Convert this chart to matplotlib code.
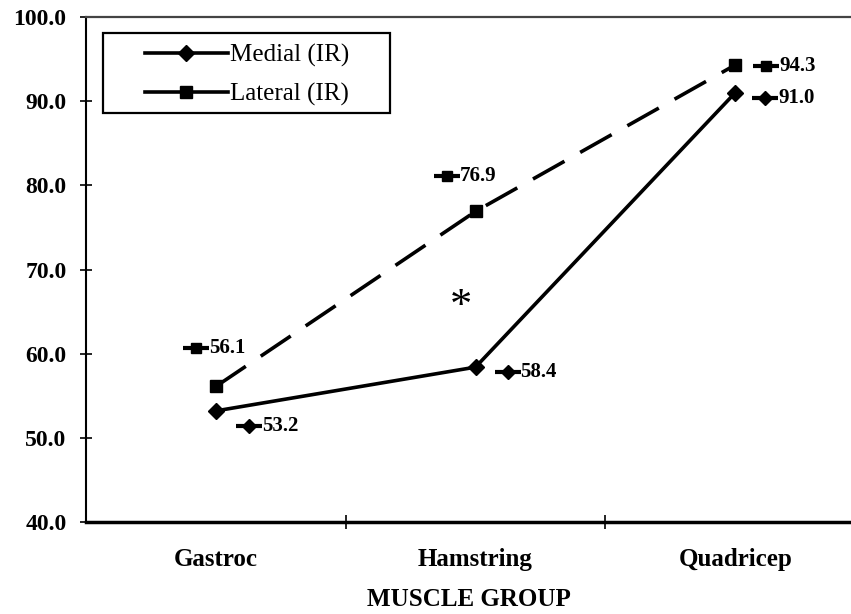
import matplotlib.pyplot as plt
from matplotlib.lines import Line2D
from matplotlib.patches import Rectangle
from matplotlib.transforms import offset_copy

categories = ["Gastroc", "Hamstring", "Quadricep"]
medial = [53.2, 58.4, 91.0]
lateral = [56.1, 76.9, 94.3]
yticks = [40.0, 50.0, 60.0, 70.0, 80.0, 90.0, 100.0]

# label offsets in pixels (key centre relative to the point)
medial_off = [(33, -15), (32, -5), (30, -5)]
lateral_off = [(-20, 38), (-29, 35), (31, -1)]

plt.rcParams['font.family'] = ['Liberation Serif', 'DejaVu Serif']

fig = plt.figure(figsize=(8.51, 6.14), dpi=100)
ax = fig.add_axes([86 / 851, 1 - 522 / 614, 1 - 86 / 851, (522 - 17) / 614])

x = list(range(len(categories)))
ax.plot(x, medial, color="black", lw=2.6, marker="D", ms=8, clip_on=False)
ax.plot(x, lateral, color="black", lw=2.6, marker="s", ms=8, dashes=(10, 5),
        clip_on=False)


def data_labels(vals, offs, marker):
    for xi, v, (dx, dy) in zip(x, vals, offs):
        tr = offset_copy(ax.transData, fig=fig, x=dx, y=dy, units="dots")
        ax.plot([xi], [v], transform=tr, marker="_", ms=19, mew=3, color="black",
                clip_on=False)
        ax.plot([xi], [v], transform=tr, marker=marker, ms=7, color="black",
                clip_on=False)
        ax.annotate(f"{v:.1f}", xy=(xi, v), xytext=(dx + 13, dy),
                    textcoords="offset pixels", ha="left", va="center",
                    fontsize=15, fontweight="bold")


data_labels(medial, medial_off, "D")
data_labels(lateral, lateral_off, "s")

ax.text(0.945, 65.5, "*", ha="center", va="center", fontsize=32)

ax.set_ylim(40, 100)
ax.set_xlim(-0.5, 2.5 - 14 / 259)
ax.set_yticks(yticks)
ax.set_yticklabels([f"{t:.1f}" for t in yticks], fontsize=17, fontweight="bold")
ax.set_xticks(x)
ax.set_xticklabels(categories, fontsize=18, fontweight="bold")
ax.set_xticks([0.5, 1.5], minor=True)
ax.tick_params(axis="x", which="major", length=0, pad=18.5)
ax.tick_params(axis="x", which="minor", direction="inout", length=10, width=1.2)
ax.tick_params(axis="y", direction="inout", length=8, width=1.2, pad=10)
ax.spines["right"].set_visible(False)
ax.spines["top"].set_linewidth(1.6)
ax.spines["top"].set_color("#444444")
ax.spines["left"].set_linewidth(1.5)
ax.spines["bottom"].set_linewidth(2.5)
ax.set_xlabel("MUSCLE GROUP", fontsize=18, fontweight="bold", labelpad=12.5)

# legend frame is wider than its content in the original
ax.add_patch(Rectangle((17 / 765, 0.810), 287 / 765, 0.158, transform=ax.transAxes,
                       fill=False, edgecolor="black", lw=1.6, clip_on=False))
handles = [
    Line2D([], [], color="black", lw=2.6, marker="D", ms=8),
    Line2D([], [], color="black", lw=2.6, marker="s", ms=8),
]
ax.legend(handles, ["Medial (IR)", "Lateral (IR)"], loc="upper left",
          bbox_to_anchor=((145 - 86) / 765, (522 - 44) / 505), fontsize=18,
          handlelength=3.3, frameon=False, borderpad=0, borderaxespad=0,
          handletextpad=0.12, labelspacing=0.65)

fig.savefig("out.png", dpi=100)
